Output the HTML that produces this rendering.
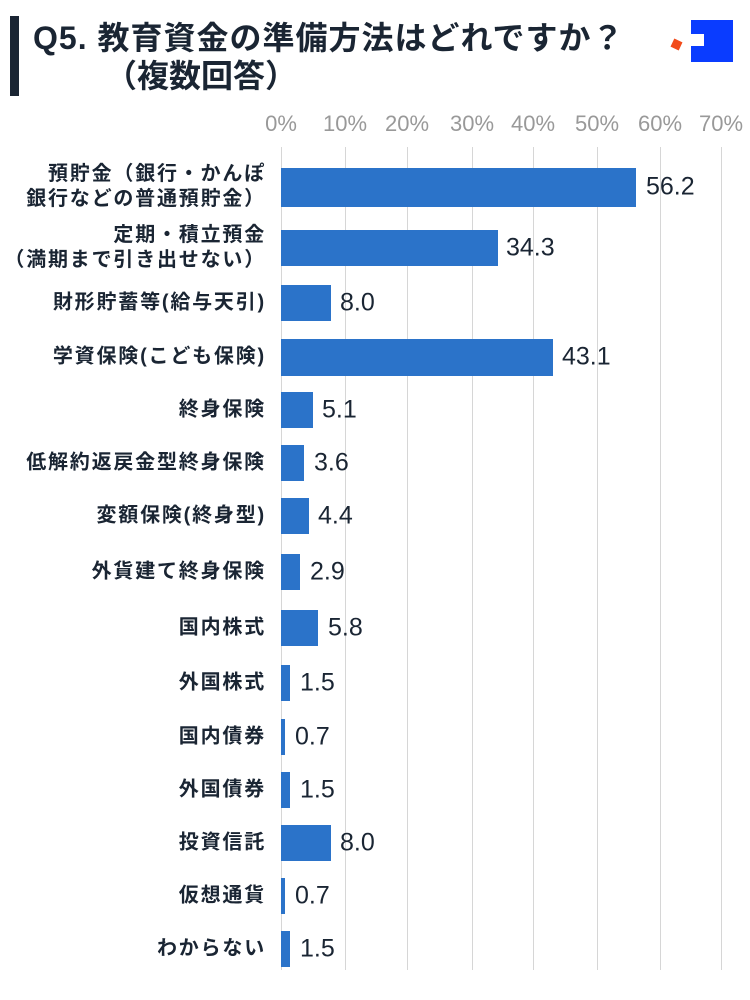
<!DOCTYPE html>
<html><head><meta charset="utf-8"><style>
body{margin:0;background:#fff;width:750px;height:1000px;position:relative;overflow:hidden;font-family:"Liberation Sans","Noto Sans CJK JP",sans-serif;color:#1a2533}
.a{position:absolute}
.t{font-weight:bold;font-size:32px;line-height:38px;white-space:nowrap}
.lab{position:absolute;right:484px;text-align:right;font-weight:bold;font-size:20px;letter-spacing:1.8px;line-height:25px;color:#1a2533;transform:translateY(-50%);white-space:nowrap}
.bar{position:absolute;left:281px;background:#2b73c9}
.v{position:absolute;font-size:25px;color:#1a2533;transform:translateY(-50%)}
.tick{position:absolute;top:111px;font-size:22px;color:#999;transform:translateX(-50%)}
.g{position:absolute;top:147px;height:823px;width:1px;background:#d6d6d6}
</style></head><body>
<div class="a" style="left:10px;top:16px;width:9px;height:80px;background:#1a2533"></div>
<div class="a t" style="left:33px;top:19px;letter-spacing:1px">Q5. 教育資金の準備方法はどれですか？</div>
<div class="a t" style="left:105px;top:57px">（複数回答）</div>
<div class="a" style="left:691px;top:20px;width:42px;height:42px;background:#0a3cff"></div>
<div class="a" style="left:691px;top:34px;width:13px;height:12px;background:#fff"></div>
<div class="a" style="left:672px;top:40px;width:9px;height:9px;background:#f24b1a;transform:rotate(25deg)"></div>
<div class="tick" style="left:281px">0%</div><div class="tick" style="left:345px">10%</div><div class="tick" style="left:407px">20%</div><div class="tick" style="left:472px">30%</div><div class="tick" style="left:533px">40%</div><div class="tick" style="left:597px">50%</div><div class="tick" style="left:660px">60%</div><div class="tick" style="left:721px">70%</div>
<div class="g" style="left:281px"></div><div class="g" style="left:345px"></div><div class="g" style="left:407px"></div><div class="g" style="left:472px"></div><div class="g" style="left:533px"></div><div class="g" style="left:597px"></div><div class="g" style="left:660px"></div><div class="g" style="left:721px"></div>
<div class="lab" style="top:187px">預貯金（銀行・かんぽ<br>銀行などの普通預貯金）</div><div class="bar" style="top:168px;height:39px;width:355px"></div><div class="v" style="top:187px;left:646px">56.2</div>
<div class="lab" style="top:248px">定期・積立預金<br>（満期まで引き出せない）</div><div class="bar" style="top:230px;height:36px;width:217px"></div><div class="v" style="top:248px;left:506px">34.3</div>
<div class="lab" style="top:303px">財形貯蓄等(給与天引)</div><div class="bar" style="top:285px;height:36px;width:50px"></div><div class="v" style="top:303px;left:340px">8.0</div>
<div class="lab" style="top:357px">学資保険(こども保険)</div><div class="bar" style="top:339px;height:37px;width:272px"></div><div class="v" style="top:357px;left:562px">43.1</div>
<div class="lab" style="top:410px">終身保険</div><div class="bar" style="top:392px;height:36px;width:32px"></div><div class="v" style="top:410px;left:322px">5.1</div>
<div class="lab" style="top:463px">低解約返戻金型終身保険</div><div class="bar" style="top:445px;height:36px;width:23px"></div><div class="v" style="top:463px;left:314px">3.6</div>
<div class="lab" style="top:516px">変額保険(終身型)</div><div class="bar" style="top:498px;height:36px;width:28px"></div><div class="v" style="top:516px;left:318px">4.4</div>
<div class="lab" style="top:572px">外貨建て終身保険</div><div class="bar" style="top:554px;height:36px;width:19px"></div><div class="v" style="top:572px;left:310px">2.9</div>
<div class="lab" style="top:628px">国内株式</div><div class="bar" style="top:610px;height:36px;width:37px"></div><div class="v" style="top:628px;left:328px">5.8</div>
<div class="lab" style="top:683px">外国株式</div><div class="bar" style="top:665px;height:36px;width:9px"></div><div class="v" style="top:683px;left:300px">1.5</div>
<div class="lab" style="top:737px">国内債券</div><div class="bar" style="top:719px;height:36px;width:4px"></div><div class="v" style="top:737px;left:295px">0.7</div>
<div class="lab" style="top:790px">外国債券</div><div class="bar" style="top:772px;height:36px;width:9px"></div><div class="v" style="top:790px;left:300px">1.5</div>
<div class="lab" style="top:843px">投資信託</div><div class="bar" style="top:825px;height:36px;width:50px"></div><div class="v" style="top:843px;left:340px">8.0</div>
<div class="lab" style="top:896px">仮想通貨</div><div class="bar" style="top:878px;height:36px;width:4px"></div><div class="v" style="top:896px;left:295px">0.7</div>
<div class="lab" style="top:949px">わからない</div><div class="bar" style="top:931px;height:36px;width:9px"></div><div class="v" style="top:949px;left:300px">1.5</div>
</body></html>
